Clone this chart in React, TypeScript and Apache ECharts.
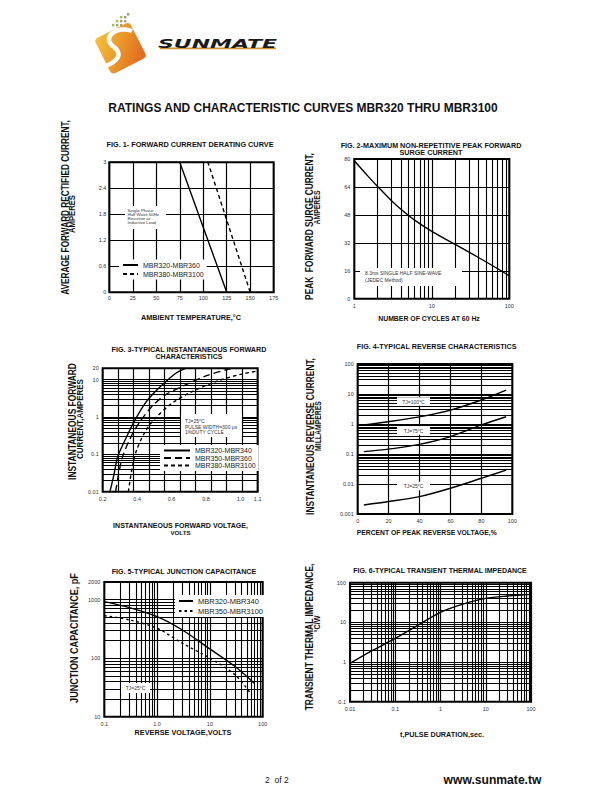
import React, { useEffect, useRef } from 'react';
import * as echarts from 'echarts';

const FONT = '"Liberation Sans", Arial, Helvetica, sans-serif';

// ---------------- Fig.1 forward current derating ----------------
const fig1SolidTemp = [0, 75, 125];
const fig1SolidAmps = [3, 3, 0];
const fig1DashTemp = [0, 105, 150];
const fig1DashAmps = [3, 3, 0];

// ---------------- Fig.2 surge current ----------------
const fig2Cycles = [1, 1.5, 2, 3, 4, 6, 10, 20, 40, 70, 100];
const fig2Amps = [79, 70.2, 64.2, 56.3, 51.2, 45, 38.6, 31.1, 23.6, 17.3, 13.1];

// ---------------- Fig.3 forward characteristics ----------------
const fig3VoltsA = [0.242, 0.267, 0.287, 0.339, 0.388, 0.446, 0.504, 0.572, 0.629, 0.682];
const fig3AmpsA = [0.01, 0.031, 0.086, 0.295, 0.83, 2.3, 4.7, 9.3, 15.2, 20];
const fig3VoltsB = [0.275, 0.31, 0.364, 0.417, 0.484, 0.562, 0.678, 0.813, 0.949];
const fig3AmpsB = [0.01, 0.071, 0.295, 0.75, 1.87, 3.85, 7.1, 13.2, 20];
const fig3VoltsC = [0.349, 0.372, 0.397, 0.446, 0.504, 0.601, 0.717, 0.871, 1.007, 1.1];
const fig3AmpsC = [0.01, 0.046, 0.13, 0.4, 0.91, 2.3, 4.7, 9.3, 14, 16.9];
const fig3XLabels = ['0.2', '0.4', '0.6', '0.8', '1.0', '1.1'];

// ---------------- Fig.4 reverse characteristics ----------------
const fig4Percent = [4, 20, 40, 60, 80, 96];
const fig4Tj100 = [0.93, 1.19, 1.72, 2.9, 6.3, 13.5];
const fig4Tj75 = [0.12, 0.145, 0.21, 0.38, 0.93, 1.75];
const fig4Tj25 = [0.002, 0.0026, 0.0038, 0.0072, 0.0155, 0.029];

// ---------------- Fig.5 junction capacitance ----------------
const fig5VoltsA = [0.1, 0.3, 1, 3, 10, 30, 70];
const fig5CapA = [924, 730, 511, 303, 144, 72, 37];
const fig5VoltsB = [0.1, 0.3, 1, 3, 10, 30, 62];
const fig5CapB = [533, 450, 324, 180, 100, 52, 23.5];

// ---------------- Fig.6 transient thermal impedance ----------------
const fig6Time = [0.01, 0.03, 0.1, 0.3, 1, 3, 10, 30, 100];
const fig6Imp = [0.92, 1.9, 3.95, 8.2, 17.9, 28.4, 40.3, 46.1, 50.8];

const MANTISSAS = [2, 3, 4, 5, 6, 7, 8, 9];

function logMinors(min: number, max: number): number[] {
  const out: number[] = [];
  for (let e = Math.floor(Math.log10(min)); e <= Math.ceil(Math.log10(max)); e++) {
    for (const m of MANTISSAS) {
      const v = +(m * Math.pow(10, e)).toPrecision(6);
      if (v > min * 1.0001 && v < max * 0.9999) out.push(v);
    }
  }
  return out;
}

const zip = (xs: number[], ys: number[]) => xs.map((x, i) => [x, ys[i]]);

let mctx: CanvasRenderingContext2D | null = null;
function textWidth(text: string, font: string) {
  if (!mctx) mctx = document.createElement('canvas').getContext('2d');
  if (!mctx) return text.length * 5;
  mctx.font = font;
  return mctx.measureText(text).width;
}

function htext(text: string, x: number, y: number, width: number, weight = 'bold', align = 'center', color = '#111') {
  const base = 10;
  const size = (base * width) / textWidth(text, `${weight} ${base}px ${FONT}`);
  return {
    type: 'text', x, y, z: 60, silent: true,
    style: {
      text, fill: color, font: `${weight} ${size.toFixed(2)}px ${FONT}`,
      textAlign: align, textVerticalAlign: 'middle', align, verticalAlign: 'middle',
    },
  };
}
function ptext(text: string, x: number, y: number, size: number, align = 'left', weight = 'normal', color = '#333') {
  return {
    type: 'text', x, y, z: 60, silent: true,
    style: {
      text, fill: color, font: `${weight} ${size}px ${FONT}`,
      textAlign: align, textVerticalAlign: 'middle', align, verticalAlign: 'middle',
    },
  };
}
function vtext(text: string, cx: number, cy: number, length: number, size: number) {
  const font = `bold ${size}px ${FONT}`;
  const sx = length / textWidth(text, font);
  return {
    type: 'text', x: cx, y: cy, rotation: Math.PI / 2, scaleX: sx, z: 60, silent: true,
    style: {
      text, fill: '#111', font,
      textAlign: 'center', textVerticalAlign: 'middle', align: 'center', verticalAlign: 'middle',
    },
  };
}
function box(x: number, y: number, w: number, h: number) {
  return { type: 'rect', z: 55, silent: true, shape: { x, y, width: w, height: h }, style: { fill: '#fff' } };
}

const labelStyle = { fontSize: 5.5, color: '#333', margin: 4, fontFamily: FONT };
const split = { show: true, lineStyle: { color: '#000', width: 1.2 } };
const logFmt = (v: number) => String(+(+v).toPrecision(6));

function axis(gridIndex: number, extra: any) {
  return {
    gridIndex,
    axisLine: { show: false },
    axisTick: { show: false },
    axisLabel: { ...labelStyle },
    splitLine: split,
    ...extra,
  };
}

function minorLines(xs: number[], ys: number[]) {
  return {
    silent: true,
    symbol: ['none', 'none'],
    label: { show: false },
    emphasis: { disabled: true },
    lineStyle: { color: '#000', width: 1.1, type: 'solid' },
    data: [...xs.map((v) => ({ xAxis: v })), ...ys.map((v) => ({ yAxis: v }))],
  };
}

function curve(name: string, xi: number, yi: number, xs: number[], ys: number[], type: any, extra: any = {}) {
  return {
    type: 'line', name, xAxisIndex: xi, yAxisIndex: yi,
    data: zip(xs, ys), symbol: 'none', showSymbol: false,
    smooth: 0.3, clip: true, silent: true, z: 3,
    lineStyle: { color: '#000', width: 1.4, type },
    itemStyle: { color: '#000' },
    ...extra,
  };
}

function legendAt(left: number, top: number, names: string[], itemWidth: number, fontSize: number, itemGap: number) {
  return {
    show: true, selectedMode: false, orient: 'vertical', left, top, z: 20,
    itemWidth, itemHeight: 7, itemGap, padding: [2, 3, 2, 3], backgroundColor: '#fff',
    itemStyle: { opacity: 0 },
    textStyle: { fontSize, color: '#222', fontFamily: FONT },
    data: names,
  };
}

function buildOption() {
  const gridBase = { show: true, borderColor: '#000', borderWidth: 2, backgroundColor: 'transparent' };
  const grid = [
    { ...gridBase, left: 109.3, top: 162.3, width: 164.4, height: 130 },
    { ...gridBase, left: 354.3, top: 159, width: 155, height: 139.7 },
    { ...gridBase, left: 102.7, top: 368.3, width: 155, height: 123.4 },
    { ...gridBase, left: 357.7, top: 364, width: 154.6, height: 150 },
    { ...gridBase, left: 104.3, top: 582, width: 158.4, height: 134.7 },
    { ...gridBase, left: 350, top: 582.7, width: 181, height: 119 },
  ];

  const xAxis = [
    axis(0, { type: 'value', min: 0, max: 175, interval: 25, axisLabel: { ...labelStyle, margin: 3 } }),
    axis(1, { type: 'log', logBase: 10, min: 1, max: 100, axisLabel: { ...labelStyle, formatter: logFmt } }),
    axis(2, {
      type: 'value', min: 0.2, max: 1.1, interval: 0.1, splitLine: { show: false },
      axisLabel: {
        ...labelStyle,
        formatter: (v: number) => {
          const s = (Math.round(v * 10) / 10).toFixed(1);
          return fig3XLabels.includes(s) ? s : '';
        },
      },
    }),
    axis(3, { type: 'value', min: 0, max: 100, interval: 20 }),
    axis(4, {
      type: 'log', logBase: 10, min: 0.1, max: 100,
      axisLabel: { ...labelStyle, formatter: (v: number) => (Math.abs(v - 1) < 1e-9 ? '1.0' : logFmt(v)) },
    }),
    axis(5, { type: 'log', logBase: 10, min: 0.01, max: 100, axisLabel: { ...labelStyle, formatter: logFmt } }),
    axis(2, { type: 'value', min: 0, max: 10, interval: 1, position: 'top', axisLabel: { show: false } }),
  ];

  const yAxis = [
    axis(0, { type: 'value', min: 0, max: 3, interval: 0.6, axisLabel: { ...labelStyle, margin: 3 } }),
    axis(1, { type: 'value', min: 0, max: 80, interval: 16 }),
    axis(2, { type: 'log', logBase: 10, min: 0.01, max: 20, axisLabel: { ...labelStyle, formatter: logFmt } }),
    axis(3, { type: 'log', logBase: 10, min: 0.001, max: 100, axisLabel: { ...labelStyle, formatter: logFmt } }),
    axis(4, { type: 'log', logBase: 10, min: 10, max: 2000, axisLabel: { ...labelStyle, formatter: logFmt } }),
    axis(5, { type: 'log', logBase: 10, min: 0.1, max: 100, axisLabel: { ...labelStyle, formatter: logFmt } }),
  ];

  const series = [
    curve('MBR320-MBR360', 0, 0, fig1SolidTemp, fig1SolidAmps, 'solid', { smooth: false }),
    curve('MBR380-MBR3100', 0, 0, fig1DashTemp, fig1DashAmps, [4, 3], { smooth: false }),

    curve('Peak forward surge current', 1, 1, fig2Cycles, fig2Amps, 'solid', {
      markLine: minorLines(logMinors(1, 100), []),
    }),

    curve('MBR320-MBR340', 2, 2, fig3VoltsA, fig3AmpsA, 'solid', {
      markLine: minorLines([], logMinors(0.01, 20)),
    }),
    curve('MBR350-MBR360', 2, 2, fig3VoltsB, fig3AmpsB, [7, 4]),
    curve('MBR380-MBR3100', 2, 2, fig3VoltsC, fig3AmpsC, [3.5, 3]),

    curve('TJ=100°C', 3, 3, fig4Percent, fig4Tj100, 'solid', {
      markLine: minorLines([], logMinors(0.001, 100)),
    }),
    curve('TJ=75°C', 3, 3, fig4Percent, fig4Tj75, 'solid'),
    curve('TJ=25°C', 3, 3, fig4Percent, fig4Tj25, 'solid'),

    curve('MBR320-MBR340', 4, 4, fig5VoltsA, fig5CapA, 'solid', {
      markLine: minorLines(logMinors(0.1, 100), logMinors(10, 2000)),
    }),
    curve('MBR350-MBR3100', 4, 4, fig5VoltsB, fig5CapB, [2.5, 3]),

    curve('Transient thermal impedance', 5, 5, fig6Time, fig6Imp, 'solid', {
      markLine: minorLines(logMinors(0.01, 100), logMinors(0.1, 100)),
    }),
  ];

  const legend = [
    legendAt(119, 259.5, ['MBR320-MBR360', 'MBR380-MBR3100'], 15, 7, 2),
    legendAt(160, 445, ['MBR320-MBR340', 'MBR350-MBR360', 'MBR380-MBR3100'], 26, 7, 0.5),
    legendAt(175, 595, ['MBR320-MBR340', 'MBR350-MBR3100'], 14, 7.5, 2),
  ];

  const elements: any[] = [
    // ---- logo ----
    {
      type: 'rect', x: 120.5, y: 48.2, rotation: 0.47, z: 50, silent: true,
      shape: { x: -19.7, y: -19.7, width: 39.4, height: 39.4, r: 4 },
      style: {
        fill: new echarts.graphic.LinearGradient(0, 0, 1, 1, [
          { offset: 0, color: '#f5c53a' },
          { offset: 1, color: '#e0641c' },
        ]),
      },
    },
    {
      type: 'bezierCurve', z: 51, silent: true,
      shape: { x1: 132, y1: 31, cpx1: 118, cpy1: 25, cpx2: 100, cpy2: 37, x2: 114, y2: 47 },
      style: { stroke: '#fff', lineWidth: 4.5, fill: 'none' },
    },
    {
      type: 'bezierCurve', z: 51, silent: true,
      shape: { x1: 114, y1: 47, cpx1: 126, cpy1: 56, cpx2: 112, cpy2: 66, x2: 98, y2: 67 },
      style: { stroke: '#fff', lineWidth: 4.5, fill: 'none' },
    },
    ...[[112, 24], [116, 24], [120, 24], [116, 20], [120, 20], [124, 20], [120, 16], [124, 16], [127, 13]].map(
      ([x, y], i) => ({
        type: 'rect', z: 50, silent: true, shape: { x, y, width: 2.4, height: 2.4 },
        style: { fill: i % 3 === 0 ? '#9bbf5a' : '#a79a78' },
      })
    ),
    (() => {
      const font = `italic 900 13px "DejaVu Sans", ${FONT}`;
      const sx = 119 / textWidth('SUNMATE', font);
      return {
        type: 'text', x: 158, y: 43.5, scaleX: sx, z: 60, silent: true,
        style: { text: 'SUNMATE', fill: '#1a1a1a', font, textAlign: 'left', textVerticalAlign: 'middle', align: 'left', verticalAlign: 'middle' },
      };
    })(),
    { type: 'rect', z: 59, silent: true, shape: { x: 160, y: 47.6, width: 116, height: 1.6 }, style: { fill: '#d4952c' } },

    // ---- titles ----
    htext('RATINGS AND CHARACTERISTIC CURVES MBR320 THRU MBR3100', 303, 108, 390),
    htext('FIG. 1- FORWARD CURRENT DERATING CURVE', 190, 144, 167),
    htext('FIG. 2-MAXIMUM NON-REPETITIVE PEAK FORWARD', 431, 145, 181),
    htext('SURGE CURRENT', 431, 152.5, 63),
    htext('FIG. 3-TYPICAL INSTANTANEOUS FORWARD', 189, 349.3, 155),
    htext('CHARACTERISTICS', 189, 356, 67),
    htext('FIG. 4-TYPICAL REVERSE CHARACTERISTICS', 436.7, 347.3, 160),
    htext('FIG. 5-TYPICAL JUNCTION CAPACITANCE', 184, 572.3, 145),
    htext('FIG. 6-TYPICAL TRANSIENT THERMAL IMPEDANCE', 440, 570, 174),

    // ---- x axis titles ----
    htext('AMBIENT TEMPERATURE,°C', 191, 317, 100),
    htext('NUMBER OF CYCLES AT 60 Hz', 429, 318.3, 102),
    htext('INSTANTANEOUS FORWARD VOLTAGE,', 180.5, 525.7, 135),
    htext('VOLTS', 180.5, 532, 20),
    htext('PERCENT OF PEAK REVERSE VOLTAGE,%', 426.7, 532.3, 140),
    htext('REVERSE VOLTAGE,VOLTS', 183, 732.7, 97),
    htext('t,PULSE DURATION,sec.', 442, 734, 84),

    // ---- y axis titles ----
    vtext('AVERAGE FORWARD RECTIFIED CURRENT,', 65.5, 207.5, 175, 10),
    vtext('AMPERES', 72, 214, 38, 9.5),
    vtext('PEAK  FORWARD SURGE CURRENT,', 310, 226.5, 147, 10),
    vtext('AMPERES', 316.5, 207.5, 34, 9.5),
    vtext('INSTANTANEOUS FORWARD', 73, 421.5, 117, 10),
    vtext('CURRENT,AMPERES', 79.5, 419, 80, 9.5),
    vtext('INSTANTANEOUS REVERSE CURRENT,', 311, 436.5, 157, 10),
    vtext('MILLAMPERES', 318.5, 426, 50, 9.5),
    vtext('JUNCTION CAPACITANCE, pF', 74, 638, 130, 10),
    vtext('TRANSIENT THERMAL IMPEDANCE,', 310, 637, 147, 10),
    vtext('°C/W', 316.5, 624, 17, 9.5),

    // ---- annotations ----
    box(125, 206, 41, 23),
    ptext('Single Phase\nHalf Wave 60Hz\nResistive or\nInductive Load', 127.5, 216.5, 4.4, 'left', 'normal', '#333'),
    box(360, 268, 102, 18),
    ptext('8.3ms SINGLE HALF SINE-WAVE', 365, 273.3, 5, 'left'),
    ptext('(JEDEC Method)', 365, 279.5, 5, 'left'),
    box(181, 414, 61, 23),
    ptext('TJ=25°C', 185, 421, 5, 'left'),
    ptext('PULSE WIDTH=300 μs', 185, 426.7, 5, 'left'),
    ptext('1%DUTY CYCLE', 185, 431.7, 5, 'left'),
    box(397, 397.3, 33, 8.5),
    ptext('TJ=100°C', 413.5, 401.5, 5, 'center'),
    box(397, 426.3, 33, 8.5),
    ptext('TJ=75°C', 413.5, 430.5, 5, 'center'),
    box(397, 481.8, 33, 8.5),
    ptext('TJ=25°C', 413.5, 486, 5, 'center'),
    box(121, 683, 29, 10),
    ptext('TJ=25°C', 135.5, 688, 5, 'center'),

    // ---- footer ----
    ptext('2  of 2', 265, 780, 8.5, 'left', 'normal', '#111'),
    htext('www.sunmate.tw', 492.5, 780, 98),
  ];

  return {
    animation: false,
    backgroundColor: '#fff',
    textStyle: { fontFamily: FONT },
    grid,
    xAxis,
    yAxis,
    legend,
    series,
    graphic: { elements },
  };
}

export default function App() {
  const ref = useRef<HTMLDivElement>(null);
  useEffect(() => {
    if (!ref.current) return;
    const chart = echarts.init(ref.current, null, { renderer: 'svg', width: 610, height: 810 });
    chart.setOption(buildOption() as any);
    return () => chart.dispose();
  }, []);
  return (
    <div
      ref={ref}
      style={{ position: 'absolute', left: 0, top: 0, width: 610, height: 810, background: '#fff' }}
    />
  );
}
